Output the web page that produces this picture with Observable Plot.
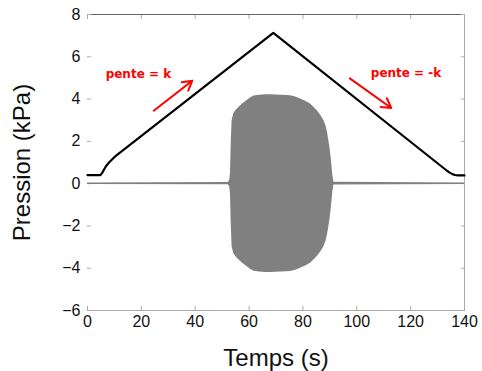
<!DOCTYPE html>
<html><head><meta charset="utf-8">
<script src="https://cdn.jsdelivr.net/npm/d3@7"></script>
<script src="https://cdn.jsdelivr.net/npm/@observablehq/plot@0.6"></script>
<style>body{margin:0;background:#fff}</style>
</head><body><div id="chart"></div>
<script>
// Pressure ramp (black line)
const timeP = [0, 4.8, 5.5, 6.2, 7.0, 8.0, 9.0, 10.4, 69, 133.5, 134.5, 135.5, 136.5, 137.5, 140];
const pressure = [0.4, 0.4, 0.52, 0.68, 0.85, 1.0, 1.13, 1.3, 7.13, 0.61, 0.52, 0.45, 0.41, 0.39, 0.39];
// Oscillation envelope (gray filled region, symmetric)
const timeOsc = [0, 52.3, 52.8, 53.1, 53.4, 53.7, 54.3, 55.2, 56.2, 57.7, 59.3, 60.5, 61.8, 64, 66, 68, 70, 72, 74, 75.4, 77.3, 79.1, 81, 82.8, 84, 85.3, 86.6, 87.8, 88.5, 89.0, 89.5, 90.0, 90.5, 91.1, 91.5, 140];
const oscAmp = [0.035, 0.05, 0.15, 0.5, 2.0, 2.98, 3.3, 3.47, 3.6, 3.78, 3.93, 4.05, 4.14, 4.18, 4.2, 4.2, 4.19, 4.18, 4.17, 4.16, 4.1, 4.0, 3.9, 3.77, 3.62, 3.45, 3.23, 2.98, 2.75, 2.5, 2.15, 1.72, 1.2, 0.4, 0.06, 0.035];
// Axes
const xDomain = [0, 140];
const yDomain = [-6, 8];
const xTicks = [0, 20, 40, 60, 80, 100, 120, 140];
const yTicks = [-6, -4, -2, 0, 2, 4, 6, 8];
const xLabel = "Temps (s)";
const yLabel = "Pression (kPa)";
// Annotations
const noteText = ["pente = k", "pente = -k"];
const noteX = [18.9, 118.3];
const noteY = [5.16, 5.24];
const arrowX1 = [24.6, 97.4];
const arrowY1 = [3.45, 4.98];
const arrowX2 = [38.9, 112.8];
const arrowY2 = [4.87, 3.58];

const pData = timeP.map((t, i) => ({t, p: pressure[i]}));
const oData = timeOsc.map((t, i) => ({t, a: oscAmp[i]}));
const notes = noteText.map((s, i) => ({s, x: noteX[i], y: noteY[i]}));
const arrows = arrowX1.map((x1, i) => ({x1, y1: arrowY1[i], x2: arrowX2[i], y2: arrowY2[i]}));
const fmt = d => d < 0 ? "\u2212" + Math.abs(d) : String(d);

const chart = Plot.plot({
  width: 482, height: 371,
  marginLeft: 87, marginRight: 18, marginTop: 14, marginBottom: 61,
  x: {domain: xDomain},
  y: {domain: yDomain},
  style: {fontFamily: "Liberation Sans", background: "#fff", color: "#111", overflow: "visible"},
  marks: [
    Plot.ruleY([yDomain[1]], {stroke: "#666"}),
    Plot.ruleY([yDomain[0]], {stroke: "#aaa"}),
    Plot.ruleX([xDomain[1]], {stroke: "#aaa"}),
    Plot.axisX({anchor: "bottom", ticks: xTicks, tickSize: -4, stroke: "#aaa", fill: "none"}),
    Plot.axisX({anchor: "top", ticks: xTicks, tickSize: -4, stroke: "#aaa", fill: "none"}),
    Plot.axisY({anchor: "left", ticks: yTicks, tickSize: -4, stroke: "#aaa", fill: "none"}),
    Plot.axisY({anchor: "right", ticks: yTicks, tickSize: -4, stroke: "#aaa", fill: "none"}),
    Plot.axisX({anchor: "bottom", ticks: xTicks, tickSize: 0, tickPadding: 5, fontSize: 16, tickFormat: fmt, label: null}),
    Plot.axisY({anchor: "left", ticks: yTicks, tickSize: 0, tickPadding: 7, fontSize: 16, tickFormat: fmt, label: null}),
    Plot.text([xLabel], {frameAnchor: "bottom", dy: 55, lineAnchor: "bottom", fontSize: 24, fill: "#111"}),
    Plot.text([yLabel], {frameAnchor: "left", textAnchor: "middle", rotate: -90, dx: -65, fontSize: 24, fill: "#111"}),
    Plot.areaY(oData, {x: "t", y1: d => -d.a, y2: "a", fill: "#808080"}),
    Plot.line(pData, {x: "t", y: "p", stroke: "#000", strokeWidth: 2.2}),
    Plot.arrow(arrows, {x1: "x1", y1: "y1", x2: "x2", y2: "y2", stroke: "#ff0000", strokeWidth: 2, headLength: 8}),
    Plot.text(notes, {x: "x", y: "y", text: "s", fill: "#ff0000", fontWeight: "bold", fontSize: 12, fontFamily: "DejaVu Sans"})
  ]
});
document.getElementById("chart").appendChild(chart);
</script>
</body></html>
